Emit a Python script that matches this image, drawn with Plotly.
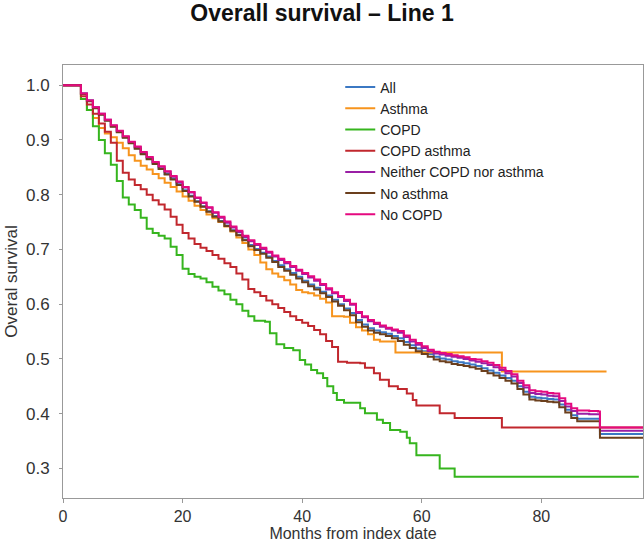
import plotly.graph_objects as go

# Kaplan-Meier step curves (months, survival)
all_m = [0, 2, 3, 4, 5, 6, 7, 8, 9, 10, 11, 12, 13, 14, 15, 16, 17, 18, 19, 20, 21, 22, 23, 24, 25, 26, 27, 28, 29, 30,
         31, 32, 33, 34, 35, 36, 37, 38, 39, 40, 41, 42, 43, 44, 45, 46, 47, 48, 49, 50, 51, 52, 53, 54, 55, 56, 57, 58, 59, 60,
         61, 62, 63, 64, 65, 66, 67, 68, 69, 70, 71, 72, 73, 74, 75, 76, 77, 78, 79, 80, 81, 82, 83, 84, 85, 86, 88, 89.5, 89.8, 97]
all_s = [1.0, 1.0, 0.985, 0.972, 0.959, 0.947, 0.936, 0.925, 0.915, 0.905, 0.895, 0.885, 0.875, 0.866, 0.857, 0.848, 0.838, 0.829, 0.819, 0.808,
         0.798, 0.788, 0.779, 0.770, 0.761, 0.752, 0.744, 0.735, 0.727, 0.718, 0.708, 0.701, 0.694, 0.687, 0.679, 0.671, 0.664, 0.657, 0.650, 0.643,
         0.636, 0.630, 0.623, 0.616, 0.608, 0.600, 0.592, 0.584, 0.571, 0.563, 0.556, 0.552, 0.549, 0.546, 0.542, 0.538, 0.531, 0.525, 0.519, 0.514,
         0.509, 0.504, 0.501, 0.499, 0.496, 0.494, 0.492, 0.490, 0.487, 0.483, 0.479, 0.475, 0.470, 0.465, 0.460, 0.450, 0.440, 0.431, 0.429, 0.428,
         0.427, 0.426, 0.417, 0.407, 0.397, 0.391, 0.391, 0.391, 0.363, 0.363]

asthma_m = [0, 2, 3, 4, 5, 6, 7, 8, 9, 10, 11, 12, 13, 14, 15, 16, 17, 18, 19, 20, 21, 22, 23, 24, 25, 26, 27, 28, 29, 30,
            31, 32, 33, 34, 35, 36, 37, 38, 39, 40, 41, 42, 43, 44, 45, 46, 47, 48, 49, 50, 51, 52, 53, 55.6, 73.4, 90.9]
asthma_s = [1.0, 1.0, 0.975, 0.955, 0.940, 0.922, 0.912, 0.905, 0.895, 0.885, 0.872, 0.862, 0.853, 0.846, 0.838, 0.830, 0.822, 0.814, 0.806, 0.797,
            0.789, 0.780, 0.772, 0.764, 0.757, 0.750, 0.742, 0.733, 0.722, 0.712, 0.700, 0.690, 0.676, 0.664, 0.656, 0.650, 0.644, 0.636, 0.626, 0.622,
            0.620, 0.616, 0.610, 0.603, 0.578, 0.578, 0.577, 0.566, 0.558, 0.552, 0.545, 0.535, 0.532, 0.512, 0.477, 0.477]

copd_m = [0, 2, 3, 4, 5, 6, 7, 8, 9, 10, 11, 12, 13, 14, 15, 16, 17, 18, 19, 20, 21, 22, 23, 24, 25, 26, 27, 28, 29, 30,
          31, 32, 33.8, 34.6, 35.7, 37, 38.5, 39.6, 40.5, 41.5, 42.5, 43.5, 44.2, 45.2, 45.8, 47, 49.7, 50.5, 52.5, 53.5,
          54.7, 56.4, 57.5, 58, 59.1, 63, 65.5, 96.3]
copd_s = [1.0, 1.0, 0.975, 0.955, 0.925, 0.900, 0.876, 0.855, 0.825, 0.795, 0.782, 0.772, 0.758, 0.738, 0.730, 0.725, 0.720, 0.705, 0.690, 0.665,
          0.655, 0.650, 0.647, 0.640, 0.632, 0.625, 0.618, 0.608, 0.600, 0.588, 0.578, 0.570, 0.568, 0.547, 0.527, 0.520, 0.516, 0.498, 0.490, 0.480,
          0.474, 0.465, 0.450, 0.438, 0.425, 0.420, 0.410, 0.401, 0.389, 0.383, 0.370, 0.367, 0.356, 0.346, 0.324, 0.300, 0.285, 0.285]

copd_asthma_m = [0, 2, 3, 4, 5, 6, 7, 8, 9, 10, 11, 12, 13, 14, 15, 16, 17, 18, 19, 20, 21, 22, 23, 24, 25, 26, 27, 28, 29, 30,
                 31, 32, 33, 34, 35, 36, 37, 38, 39, 40, 41, 42, 43, 44, 45, 46, 47.5, 49.7, 50.5, 52, 53, 54.5, 56, 57.5, 58.5,
                 59.1, 63, 65.5, 73.4, 97]
copd_asthma_s = [1.0, 1.0, 0.980, 0.965, 0.948, 0.930, 0.915, 0.895, 0.862, 0.840, 0.828, 0.818, 0.810, 0.800, 0.790, 0.782, 0.773, 0.760, 0.745, 0.730,
                 0.720, 0.710, 0.703, 0.697, 0.690, 0.683, 0.675, 0.668, 0.656, 0.645, 0.628, 0.622, 0.615, 0.607, 0.600, 0.593, 0.586, 0.578, 0.571, 0.566,
                 0.560, 0.553, 0.545, 0.533, 0.522, 0.495, 0.493, 0.492, 0.484, 0.474, 0.462, 0.450, 0.445, 0.437, 0.425, 0.415, 0.401, 0.392, 0.375, 0.375]

neither_m = [0, 2, 3, 4, 5, 6, 7, 8, 9, 10, 11, 12, 13, 14, 15, 16, 17, 18, 19, 20, 21, 22, 23, 24, 25, 26, 27, 28, 29, 30,
             31, 32, 33, 34, 35, 36, 37, 38, 39, 40, 41, 42, 43, 44, 45, 46, 47, 48, 49, 50, 51, 52, 53, 54, 55, 56, 57, 58, 59, 60,
             61, 62, 63, 64, 65, 66, 67, 68, 69, 70, 71, 72, 73, 74, 75, 76, 77, 78, 79, 80, 81, 82, 83, 84, 85, 86, 88, 89.5, 89.8, 97]
neither_s = [1.0, 1.0, 0.985, 0.972, 0.960, 0.948, 0.937, 0.926, 0.916, 0.906, 0.896, 0.887, 0.877, 0.868, 0.859, 0.851, 0.842, 0.833, 0.823, 0.813,
             0.804, 0.794, 0.785, 0.776, 0.767, 0.758, 0.749, 0.740, 0.732, 0.723, 0.715, 0.708, 0.701, 0.694, 0.687, 0.681, 0.675, 0.668, 0.661, 0.655,
             0.649, 0.643, 0.635, 0.627, 0.620, 0.613, 0.606, 0.599, 0.584, 0.576, 0.569, 0.564, 0.559, 0.555, 0.552, 0.548, 0.540, 0.532, 0.526, 0.520,
             0.514, 0.510, 0.508, 0.506, 0.504, 0.502, 0.500, 0.497, 0.495, 0.492, 0.489, 0.485, 0.480, 0.474, 0.468, 0.456, 0.448, 0.438, 0.436, 0.435,
             0.433, 0.432, 0.423, 0.413, 0.405, 0.400, 0.399, 0.399, 0.369, 0.369]

no_asthma_m = [0, 2, 3, 4, 5, 6, 7, 8, 9, 10, 11, 12, 13, 14, 15, 16, 17, 18, 19, 20, 21, 22, 23, 24, 25, 26, 27, 28, 29, 30,
               31, 32, 33, 34, 35, 36, 37, 38, 39, 40, 41, 42, 43, 44, 45, 46, 47, 48, 49, 50, 51, 52, 53, 54, 55, 56, 57, 58, 59, 60,
               61, 62, 63, 64, 65, 66, 67, 68, 69, 70, 71, 72, 73, 74, 75, 76, 77, 78, 79, 80, 81, 82, 83, 84, 85, 86, 88, 89.5, 89.8, 97]
no_asthma_s = [1.0, 1.0, 0.984, 0.971, 0.958, 0.946, 0.935, 0.924, 0.914, 0.904, 0.894, 0.884, 0.874, 0.865, 0.856, 0.847, 0.837, 0.828, 0.818, 0.807,
               0.797, 0.787, 0.778, 0.769, 0.760, 0.751, 0.743, 0.734, 0.726, 0.717, 0.706, 0.699, 0.692, 0.685, 0.677, 0.668, 0.661, 0.654, 0.647, 0.640,
               0.633, 0.627, 0.620, 0.613, 0.605, 0.597, 0.589, 0.580, 0.567, 0.559, 0.552, 0.548, 0.545, 0.542, 0.538, 0.533, 0.526, 0.520, 0.514, 0.509,
               0.504, 0.499, 0.496, 0.494, 0.491, 0.489, 0.487, 0.485, 0.482, 0.478, 0.474, 0.470, 0.465, 0.460, 0.455, 0.445, 0.435, 0.426, 0.424, 0.423,
               0.422, 0.421, 0.412, 0.402, 0.392, 0.386, 0.386, 0.386, 0.356, 0.356]

no_copd_m = [0, 2, 3, 4, 5, 6, 7, 8, 9, 10, 11, 12, 13, 14, 15, 16, 17, 18, 19, 20, 21, 22, 23, 24, 25, 26, 27, 28, 29, 30,
             31, 32, 33, 34, 35, 36, 37, 38, 39, 40, 41, 42, 43, 44, 45, 46, 47, 48, 49, 50, 51, 52, 53, 54, 55, 56, 57, 58, 59, 60,
             61, 62, 63, 64, 65, 66, 67, 68, 69, 70, 71, 72, 73, 74, 75, 76, 77, 78, 79, 80, 81, 82, 83, 84, 85, 86, 88, 89.5, 89.8, 97]
no_copd_s = [1.0, 1.0, 0.985, 0.972, 0.960, 0.948, 0.937, 0.927, 0.917, 0.907, 0.897, 0.888, 0.878, 0.869, 0.860, 0.852, 0.843, 0.834, 0.824, 0.814,
             0.805, 0.795, 0.786, 0.777, 0.768, 0.760, 0.751, 0.742, 0.734, 0.725, 0.717, 0.710, 0.703, 0.696, 0.689, 0.683, 0.677, 0.670, 0.663, 0.657,
             0.651, 0.645, 0.637, 0.629, 0.622, 0.615, 0.608, 0.601, 0.586, 0.578, 0.571, 0.566, 0.561, 0.557, 0.554, 0.551, 0.543, 0.535, 0.529, 0.523,
             0.517, 0.513, 0.511, 0.509, 0.507, 0.505, 0.503, 0.500, 0.499, 0.496, 0.493, 0.489, 0.484, 0.478, 0.472, 0.460, 0.452, 0.443, 0.441, 0.440,
             0.438, 0.437, 0.428, 0.418, 0.410, 0.406, 0.405, 0.404, 0.375, 0.375]

series = [
    ("All", all_m, all_s, "#3b78c3"),
    ("Asthma", asthma_m, asthma_s, "#f7941d"),
    ("COPD", copd_m, copd_s, "#36b51e"),
    ("COPD asthma", copd_asthma_m, copd_asthma_s, "#c1272d"),
    ("Neither COPD nor asthma", neither_m, neither_s, "#9a1fa5"),
    ("No asthma", no_asthma_m, no_asthma_s, "#6b3f1d"),
    ("No COPD", no_copd_m, no_copd_s, "#e5097f"),
]

x_ticks = [0, 20, 40, 60, 80]
y_ticks = [0.3, 0.4, 0.5, 0.6, 0.7, 0.8, 0.9, 1.0]

fig = go.Figure()
for name, m, s, col in series:
    fig.add_trace(go.Scatter(x=m, y=s, name=name, mode="lines",
                             line=dict(color=col, width=2, shape="hv")))

font_family = "Liberation Sans, Arial, sans-serif"
fig.update_layout(
    width=644, height=545,
    margin=dict(l=63, r=1, t=65, b=47),
    paper_bgcolor="white", plot_bgcolor="white",
    font=dict(family=font_family, color="#333333", size=17),
    title=dict(text="<b>Overall survival – Line 1</b>", x=0.5, xanchor="center",
               y=0.976, yanchor="middle", font=dict(size=23, color="#111111")),
    showlegend=True,
    legend=dict(x=0.478, y=0.985, xanchor="left", yanchor="top",
                bgcolor="rgba(0,0,0,0)", font=dict(size=14, color="#222222"),
                tracegroupgap=0),
    xaxis=dict(range=[0, 97], tickvals=x_ticks, showgrid=False, zeroline=False,
               showline=True, linecolor="#999999", linewidth=1, mirror=True,
               ticks="outside", ticklen=4, tickcolor="#999999",
               title=dict(text="Months from index date", standoff=0, font=dict(size=16)),
               tickfont=dict(size=16)),
    yaxis=dict(range=[0.246, 1.037], tickvals=y_ticks, tickformat=".1f", showgrid=False,
               zeroline=False, showline=True, linecolor="#999999", linewidth=1, mirror=True,
               ticks="outside", ticklen=3, tickcolor="#999999", ticklabelstandoff=6,
               title=dict(text="Overal survival", standoff=4, font=dict(size=17)),
               tickfont=dict(size=17)),
)

fig.write_html("out.html", config={"displayModeBar": False},
               post_script="document.body.style.margin='0';")
